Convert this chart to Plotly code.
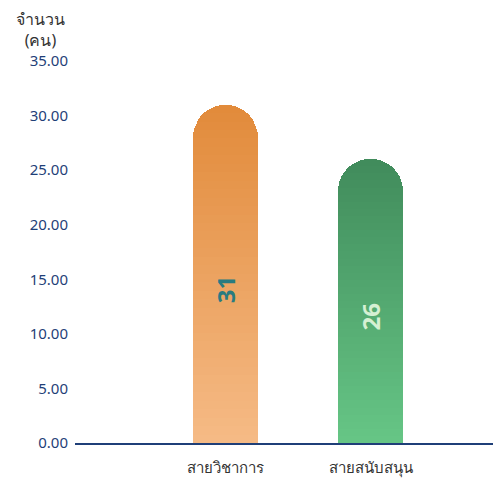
import plotly.graph_objects as go

categories = ["สายวิชาการ", "สายสนับสนุน"]
values = [31, 26]
top_colors = ["#E28B3B", "#418C5C"]
bottom_colors = ["#F5BA85", "#66C585"]
label_colors = ["#2A7B80", "#D5F0D3"]
y_title = "จำนวน<br>(คน)"

N_STEPS = 40


def hex_to_rgb(h):
    h = h.lstrip("#")
    return tuple(int(h[i:i + 2], 16) for i in (0, 2, 4))


def mix(c0, c1, t):
    a, b = hex_to_rgb(c0), hex_to_rgb(c1)
    r = [round(a[k] + (b[k] - a[k]) * t) for k in range(3)]
    return "rgb(%d,%d,%d)" % tuple(r)


fig = go.Figure()
for i in range(N_STEPS):
    t = i / (N_STEPS - 1)
    fig.add_trace(go.Bar(
        x=categories,
        y=[v / N_STEPS for v in values],
        width=0.45,
        marker=dict(
            color=[mix(bottom_colors[j], top_colors[j], t) for j in range(len(values))],
            line=dict(width=0),
        ),
        showlegend=False,
        hoverinfo="skip",
    ))

for j, v in enumerate(values):
    fig.add_annotation(
        x=categories[j], y=v / 2, text="<b>%d</b>" % v, textangle=-90,
        showarrow=False, yshift=-16,
        font=dict(family="Noto Sans", size=24, color=label_colors[j]),
    )

fig.add_annotation(
    xref="paper", yref="paper", x=-0.08, y=1.110, xanchor="center", yanchor="top",
    text=y_title, showarrow=False, align="center", borderpad=0,
    font=dict(family="Noto Sans", size=16, color="#333333"),
)

fig.update_layout(
    width=493, height=470,
    margin=dict(l=67, r=0, t=42, b=35),
    barmode="stack",
    bargap=0,
    barcornerradius="50%",
    plot_bgcolor="white",
    paper_bgcolor="white",
    xaxis=dict(
        range=[-1.038, 1.9],
        showgrid=False, zeroline=False,
        showline=True, linecolor="#1F3F78", linewidth=2,
        ticks="", ticklabelstandoff=10,
        tickfont=dict(family="Noto Sans", size=15, color="#333333"),
    ),
    yaxis=dict(
        range=[0, 36], dtick=5, tick0=0,
        tickformat=".2f",
        showgrid=False, zeroline=False, showline=False,
        ticks="", ticklabelstandoff=6,
        tickfont=dict(family="Noto Sans", size=15, color="#1F3F78"),
    ),
)

fig.write_html("out.html")
